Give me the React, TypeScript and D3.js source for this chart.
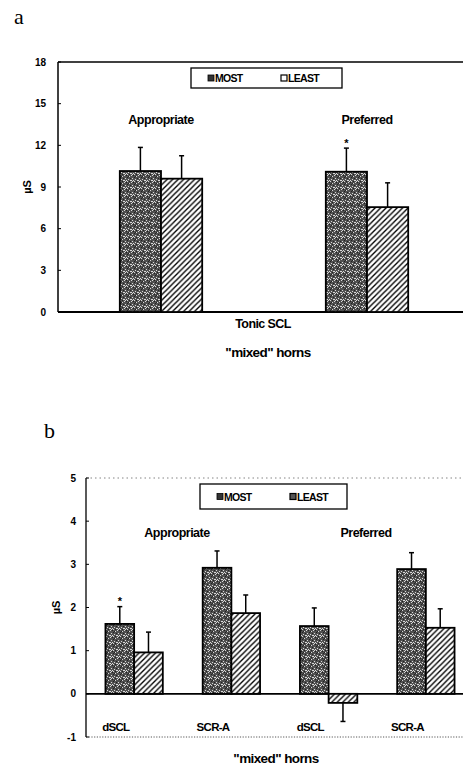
import React from "react";
import * as d3 from "d3";

// panel a: tonic SCL
const groupsA = ["Appropriate", "Preferred"];
const mostA = [10.15, 10.1];
const mostErrA = [1.7, 1.7];
const leastA = [9.6, 7.55];
const leastErrA = [1.65, 1.75];
const ticksA = [0, 3, 6, 9, 12, 15, 18];

// panel b: dSCL and SCR-A
const catsB = ["dSCL", "SCR-A", "dSCL", "SCR-A"];
const mostB = [1.62, 2.92, 1.57, 2.89];
const mostErrB = [0.4, 0.39, 0.42, 0.38];
const leastB = [0.96, 1.87, -0.21, 1.53];
const leastErrB = [0.47, 0.42, 0.43, 0.44];
const ticksB = [-1, 0, 1, 2, 3, 4, 5];

const W = 463;
const H = 766;
const sans = "'Liberation Sans', Arial, sans-serif";

// fixed speckle positions for the stipple fill
const speckle = [
  [0, 0], [3, 1], [5, 0], [1, 2], [6, 3], [2, 4], [4, 3], [0, 5], [5, 5], [3, 6], [1, 6], [6, 6], [2, 1], [4, 5],
];

function ErrorBar({ x, y0, y1 }: { x: number; y0: number; y1: number }) {
  return (
    <g stroke="#000" strokeWidth={1.5}>
      <line x1={x} x2={x} y1={y0} y2={y1} />
      <line x1={x - 2.5} x2={x + 2.5} y1={y1} y2={y1} />
    </g>
  );
}

function Legend({ x, y, w, h, hatchSwatch }: { x: number; y: number; w: number; h: number; hatchSwatch: boolean }) {
  const cy = y + h / 2;
  return (
    <g>
      <rect x={x} y={y} width={w} height={h} fill="#fff" stroke="#000" strokeWidth={1.3} />
      <rect x={x + 17} y={cy - 3} width={6} height={6} fill="#333" stroke="#000" strokeWidth={0.8} />
      <text x={x + 24} y={cy + 4} fontSize={10.5} fontWeight="bold" fontFamily={sans} letterSpacing={-0.7}>MOST</text>
      <rect x={x + 90} y={cy - 3} width={6} height={6} fill={hatchSwatch ? "#555" : "#fff"} stroke="#000" strokeWidth={1.2} />
      <text x={x + 97} y={cy + 4} fontSize={10.5} fontWeight="bold" fontFamily={sans} letterSpacing={-0.7}>LEAST</text>
    </g>
  );
}

export default function App() {
  // ---- panel a scales
  const yA = d3.scaleLinear().domain([0, 18]).range([312, 62]);
  const xA = d3.scaleBand<string>().domain(groupsA).range([58, 470]).paddingInner(0.6).paddingOuter(0.3);
  const subA = d3.scaleBand<string>().domain(["MOST", "LEAST"]).range([0, xA.bandwidth()]);

  // ---- panel b scales
  const yB = d3.scaleLinear().domain([-1, 5]).range([737, 478]);
  const idxB = catsB.map((_, i) => String(i));
  const xB = d3.scaleBand<string>().domain(idxB).range([86, 474]).paddingInner(0.41).paddingOuter(0.2);
  const subB = d3.scaleBand<string>().domain(["MOST", "LEAST"]).range([0, xB.bandwidth()]);

  const barProps = { stroke: "#000", strokeWidth: 1.8 };
  const label = { fontSize: 12.5, fontWeight: "bold" as const, fontFamily: sans, letterSpacing: -0.5 };

  return (
    <svg width={W} height={H} style={{ position: "absolute", left: 0, top: 0, background: "#fff" }}>
      <defs>
        <pattern id="stipple" width={7} height={7} patternUnits="userSpaceOnUse">
          <rect width={7} height={7} fill="#505050" />
          {speckle.map(([sx, sy], i) => (
            <rect key={i} x={sx} y={sy} width={1} height={1} fill={i % 3 === 0 ? "#222" : "#d8d8d8"} />
          ))}
        </pattern>
        <pattern id="hatch" width={5.5} height={5.5} patternUnits="userSpaceOnUse">
          <rect width={5.5} height={5.5} fill="#fff" />
          <path d="M-1,6.5 L6.5,-1 M-1,1 L1,-1 M4.5,6.5 L6.5,4.5" stroke="#000" strokeWidth={1.35} />
        </pattern>
      </defs>

      {/* ================= panel a ================= */}
      <text x={14} y={24} fontSize={22} fontFamily="'Liberation Serif', 'DejaVu Serif', serif">a</text>

      <line x1={58} x2={58} y1={yA(18)} y2={yA(0)} stroke="#000" strokeWidth={1.5} />
      <line x1={58} x2={W} y1={yA(18)} y2={yA(18)} stroke="#000" strokeWidth={1.5} />
      <line x1={58} x2={W} y1={yA(0)} y2={yA(0)} stroke="#000" strokeWidth={1.8} />
      {ticksA.map((t) => (
        <g key={t}>
          <line x1={58} x2={61} y1={yA(t)} y2={yA(t)} stroke="#000" strokeWidth={1} />
          <text x={46} y={yA(t) + 3.5} textAnchor="end" fontSize={10} fontWeight="bold" fontFamily={sans}>{t}</text>
        </g>
      ))}
      <text transform={`translate(31,${yA(9)}) rotate(-90)`} textAnchor="middle" fontSize={11} fontWeight="bold" fontFamily={sans}>µS</text>

      <Legend x={191} y={68} w={151} h={20} hatchSwatch={false} />

      {groupsA.map((g, i) => {
        const x0 = xA(g)!;
        const xm = x0 + subA("MOST")!;
        const xl = x0 + subA("LEAST")!;
        const bw = subA.bandwidth();
        return (
          <g key={g}>
            <ErrorBar x={xm + bw / 2} y0={yA(mostA[i])} y1={yA(mostA[i] + mostErrA[i])} />
            <ErrorBar x={xl + bw / 2} y0={yA(leastA[i])} y1={yA(leastA[i] + leastErrA[i])} />
            <rect x={xm} y={yA(mostA[i])} width={bw} height={yA(0) - yA(mostA[i])} fill="url(#stipple)" {...barProps} />
            <rect x={xl} y={yA(leastA[i])} width={bw} height={yA(0) - yA(leastA[i])} fill="url(#hatch)" {...barProps} />
            <text x={x0 + bw} y={124} textAnchor="middle" {...label}>{g}</text>
          </g>
        );
      })}
      <text x={xA("Preferred")! + subA.bandwidth() / 2} y={yA(mostA[1] + mostErrA[1]) - 1} textAnchor="middle" fontSize={11} fontWeight="bold" fontFamily={sans}>*</text>

      <text x={263} y={328} textAnchor="middle" fontSize={12.5} fontWeight="bold" fontFamily={sans} letterSpacing={-0.6}>Tonic SCL</text>
      <text x={268} y={357} textAnchor="middle" fontSize={13.5} fontWeight="bold" fontFamily={sans} letterSpacing={-0.6}>"mixed" horns</text>

      {/* ================= panel b ================= */}
      <text x={44} y={438} fontSize={22} fontFamily="'Liberation Serif', 'DejaVu Serif', serif">b</text>

      <line x1={86} x2={86} y1={yB(5)} y2={yB(-1)} stroke="#000" strokeWidth={1.3} />
      <line x1={86} x2={W} y1={yB(5)} y2={yB(5)} stroke="#666" strokeWidth={0.8} strokeDasharray="1.5,3" />
      <line x1={86} x2={W} y1={yB(-1)} y2={yB(-1)} stroke="#444" strokeWidth={0.9} strokeDasharray="1.2,1.5" />
      <line x1={86} x2={W} y1={yB(0)} y2={yB(0)} stroke="#000" strokeWidth={1.6} />
      {ticksB.map((t) => (
        <g key={t}>
          <line x1={86} x2={89} y1={yB(t)} y2={yB(t)} stroke="#000" strokeWidth={1} />
          <text x={76} y={yB(t) + 3.5} textAnchor="end" fontSize={10} fontWeight="bold" fontFamily={sans}>{t}</text>
        </g>
      ))}
      <text transform={`translate(60,${yB(2)}) rotate(-90)`} textAnchor="middle" fontSize={11} fontWeight="bold" fontFamily={sans}>µS</text>

      <Legend x={200} y={484} w={147} h={25} hatchSwatch={true} />
      <text x={177} y={537} textAnchor="middle" {...label}>Appropriate</text>
      <text x={366} y={537} textAnchor="middle" {...label}>Preferred</text>

      {idxB.map((k, i) => {
        const x0 = xB(k)!;
        const xm = x0 + subB("MOST")!;
        const xl = x0 + subB("LEAST")!;
        const bw = subB.bandwidth();
        const lv = leastB[i];
        const lErrEnd = lv >= 0 ? lv + leastErrB[i] : lv - leastErrB[i];
        return (
          <g key={k}>
            <ErrorBar x={xm + bw / 2} y0={yB(mostB[i])} y1={yB(mostB[i] + mostErrB[i])} />
            <ErrorBar x={xl + bw / 2} y0={yB(lv)} y1={yB(lErrEnd)} />
            <rect x={xm} y={yB(mostB[i])} width={bw} height={yB(0) - yB(mostB[i])} fill="url(#stipple)" {...barProps} />
            <rect x={xl} y={Math.min(yB(lv), yB(0))} width={bw} height={Math.abs(yB(0) - yB(lv))} fill="url(#hatch)" {...barProps} />
            <text x={x0 + bw / 2 - 4} y={731} textAnchor="middle" fontSize={11.5} fontWeight="bold" fontFamily={sans} letterSpacing={-0.7}>{catsB[i]}</text>
          </g>
        );
      })}
      <text x={xB("0")! + subB.bandwidth() / 2} y={yB(mostB[0] + mostErrB[0]) - 2} textAnchor="middle" fontSize={11} fontWeight="bold" fontFamily={sans}>*</text>

      <text x={276} y={763} textAnchor="middle" fontSize={13.5} fontWeight="bold" fontFamily={sans} letterSpacing={-0.6}>"mixed" horns</text>
    </svg>
  );
}
